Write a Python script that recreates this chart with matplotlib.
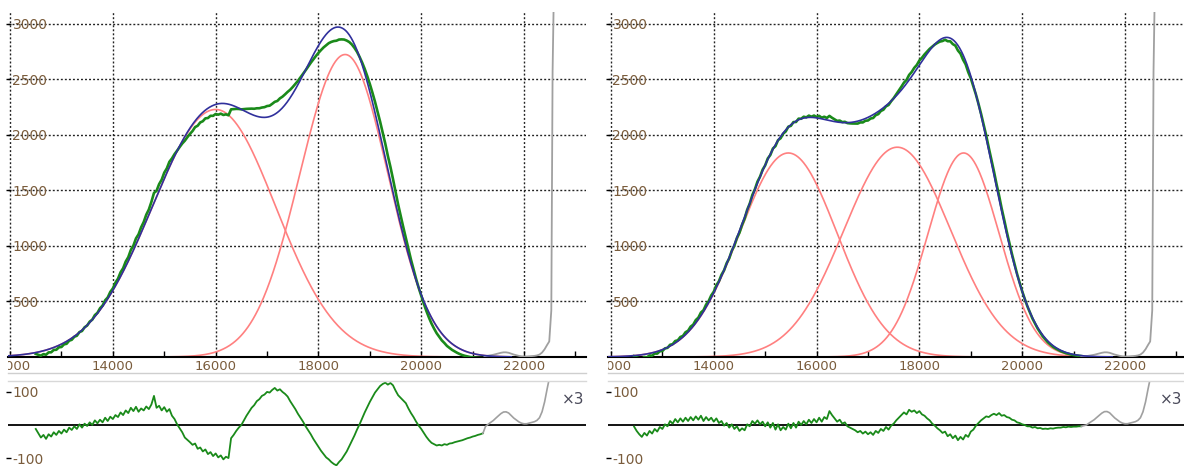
import numpy as np
import matplotlib
matplotlib.use("Agg")
import matplotlib.pyplot as plt
from matplotlib.lines import Line2D
from matplotlib.transforms import Bbox, TransformedBbox

plt.rcParams['axes.unicode_minus'] = False
plt.rcParams['font.family'] = ['DejaVu Sans']

# fitted peaks: centre, height, left width, right width
left_centers = [16000, 18520]
left_heights = [2230, 2725]
left_wl = [1234, 880]
left_wr = [1170, 830]

right_centers = [15450, 17570, 18860]
right_heights = [1838, 1890, 1838]
right_wl = [950, 1036, 690]
right_wr = [950, 1036, 690]

# residuals (data - model)
res_x_left = np.arange(12500, 21201, 50)
res_left = [
    -12, -25, -38, -30, -42, -28, -35, -22, -30, -18,
    -26, -14, -22, -8, -15, -4, -12, 2, -8, 4,
    -3, 8, 0, 14, 5, 16, 8, 22, 12, 25,
    18, 30, 24, 38, 30, 44, 36, 52, 42, 55,
    40, 50, 44, 56, 48, 62, 88, 52, 58, 44,
    54, 40, 48, 28, 18, 2, -10, -22, -38, -45,
    -52, -60, -56, -72, -68, -80, -74, -88, -82, -94,
    -86, -98, -92, -104, -96, -100, -40, -30, -18, -8,
    0, 14, 28, 40, 52, 60, 72, 78, 88, 92,
    100, 98, 106, 112, 104, 108, 100, 94, 86, 72,
    60, 48, 34, 22, 10, -4, -16, -28, -42, -54,
    -66, -78, -88, -98, -104, -112, -118, -122, -112, -104,
    -92, -80, -64, -48, -32, -14, 2, 20, 38, 54,
    70, 84, 98, 108, 118, 124, 128, 122, 127, 120,
    104, 90, 82, 74, 66, 50, 36, 24, 10, -2,
    -12, -24, -36, -46, -54, -58, -62, -60, -62, -58,
    -60, -56, -55, -52, -50, -48, -46, -43, -40, -38,
    -35, -33, -30, -28, -25,
]

res_x_right = np.arange(12450, 21151, 50)
res_right = [
    -5, -18, -28, -36, -24, -32, -18, -26, -12, -20,
    -6, -12, 2, -4, 12, 4, 18, 8, 20, 10,
    22, 12, 24, 14, 26, 16, 28, 12, 24, 14,
    22, 10, 20, 6, 12, -2, 6, -8, 2, -12,
    -4, -18, -10, -16, 2, -4, 12, 4, 14, 2,
    10, -4, 8, -8, 6, -14, 2, -16, -6, -14,
    4, -10, 6, -8, 10, 0, 12, 2, 16, 6,
    18, 8, 22, 10, 24, 18, 42, 30, 20, 10,
    16, 4, 8, -4, -8, -12, -16, -22, -18, -26,
    -20, -28, -22, -30, -18, -24, -12, -18, -6, -14,
    -2, 4, 14, 22, 30, 38, 32, 46, 40, 44,
    36, 42, 32, 28, 20, 14, 4, -2, -10, -16,
    -24, -20, -34, -28, -40, -32, -46, -36, -44, -30,
    -36, -20, -14, -2, 6, 14, 20, 26, 24, 30,
    34, 30, 36, 28, 30, 24, 22, 16, 14, 8,
    6, 2, 0, -4, -4, -8, -6, -10, -9, -12,
    -11, -12, -10, -11, -9, -8, -8, -6, -7, -5,
    -6, -5, -5, -4, -4,
]

# points outside the fitted range (drawn grey)
gray_x = [21250, 21300, 21350, 21400, 21450, 21500, 21550, 21600, 21650, 21700,
          21750, 21800, 21850, 21900, 21950, 22000, 22050, 22100, 22150, 22200,
          22250, 22300, 22350, 22400, 22450, 22490, 22530, 22555, 22590]
gray_y = [8, 12, 16, 20, 26, 32, 38, 42, 42, 38,
          30, 22, 16, 10, 6, 4, 4, 6, 8, 10,
          14, 22, 40, 70, 110, 140, 420, 2570, 3600]

W, H = 1184, 466
GREEN = '#1a8a1a'
BLUE = '#30309c'
RED = '#ff8080'
GRAY = '#a0a0a0'
TXT = '#7a5c3c'


def peak(x, c, h, wl, wr):
    w = np.where(x < c, wl, wr)
    return h * np.exp(-(x - c) ** 2 / (2.0 * w ** 2))


def panel(fig, x0, x1, xlim, centers, heights, wl, wr, res_x, res):
    res_x = np.asarray(res_x, float)
    res = np.asarray(res, float)
    gx = np.asarray(gray_x, float)
    gy = np.asarray(gray_y, float)

    def model(x):
        return sum(peak(x, c, h, a, b) for c, h, a, b in zip(centers, heights, wl, wr))

    ax = fig.add_axes([x0 / W, (H - 357) / H, (x1 - x0) / W, 345 / H])
    xs = np.linspace(xlim[0], 21750, 800)
    for c, h, a, b in zip(centers, heights, wl, wr):
        ax.plot(xs, peak(xs, c, h, a, b), color=RED, lw=1.2, zorder=2)
    data = model(res_x) + res
    ax.plot(res_x, data, color=GREEN, lw=1.9, zorder=3)
    ax.plot(np.r_[res_x[-1], gx], np.r_[data[-1], gy], color=GRAY, lw=1.3, zorder=3)
    ax.plot(xs, model(xs), color=BLUE, lw=1.2, zorder=4)

    ax.set_xlim(*xlim)
    ax.set_ylim(0, 3108)
    for s in ['top', 'right', 'left']:
        ax.spines[s].set_visible(False)
    ax.spines['bottom'].set_linewidth(1.5)
    ax.set_xticks(range(12000, 23001, 2000))
    ax.set_xticks(range(13000, 23001, 2000), minor=True)
    ax.set_yticks(range(500, 3001, 500))
    ax.grid(True, which='major', color='#222222', lw=1.0, ls=(0, (1.4, 1.5)))
    ax.tick_params(axis='x', which='both', direction='in', length=4, width=1,
                   labelsize=9.5, labelcolor=TXT, pad=2)
    ax.tick_params(axis='y', direction='inout', length=3.6, width=1,
                   labelsize=10, labelcolor=TXT, pad=-5)
    for t in ax.get_yticklabels():
        t.set_ha('left')
    clip = TransformedBbox(Bbox([[x0 / W, 0], [x1 / W, 1]]), fig.transFigure)
    for t in ax.get_xticklabels():
        t.set_clip_on(True)
        t.set_clip_box(clip)

    # residual strip
    rx = fig.add_axes([x0 / W, 0, (x1 - x0) / W, 85 / H])
    rx.axhline(0, color='black', lw=1.3, zorder=1)
    rx.plot(res_x, res, color=GREEN, lw=1.3, zorder=3)
    rx.plot(np.r_[res_x[-1], gx], np.r_[res[-1], gy - model(gx)], color=GRAY, lw=1.2, zorder=3)
    rx.set_xlim(*xlim)
    rx.set_ylim(-124, 133)
    for s in rx.spines.values():
        s.set_visible(False)
    rx.set_xticks([])
    rx.set_yticks([-100, 100])
    rx.tick_params(axis='y', direction='inout', length=3.6, width=1,
                   labelsize=10, labelcolor=TXT, pad=-5)
    for t in rx.get_yticklabels():
        t.set_ha('left')
    rx.text(0.998, 0.78, '×3', transform=rx.transAxes, ha='right', va='center',
            fontsize=11, color='#4a4a5a')

    for yy, col in [(373, '#cfcfcf'), (381, '#d8d8d8')]:
        fig.add_artist(Line2D([x0 / W, x1 / W], [(H - yy) / H] * 2, color=col, lw=1.0,
                              transform=fig.transFigure))


fig = plt.figure(figsize=(W / 100, H / 100), dpi=100)
panel(fig, 8, 586, (11960, 23205), left_centers, left_heights, left_wl, left_wr,
      res_x_left, res_left)
panel(fig, 608, 1184, (11942, 23148), right_centers, right_heights, right_wl, right_wr,
      res_x_right, res_right)
fig.savefig('out.png', dpi=100)
